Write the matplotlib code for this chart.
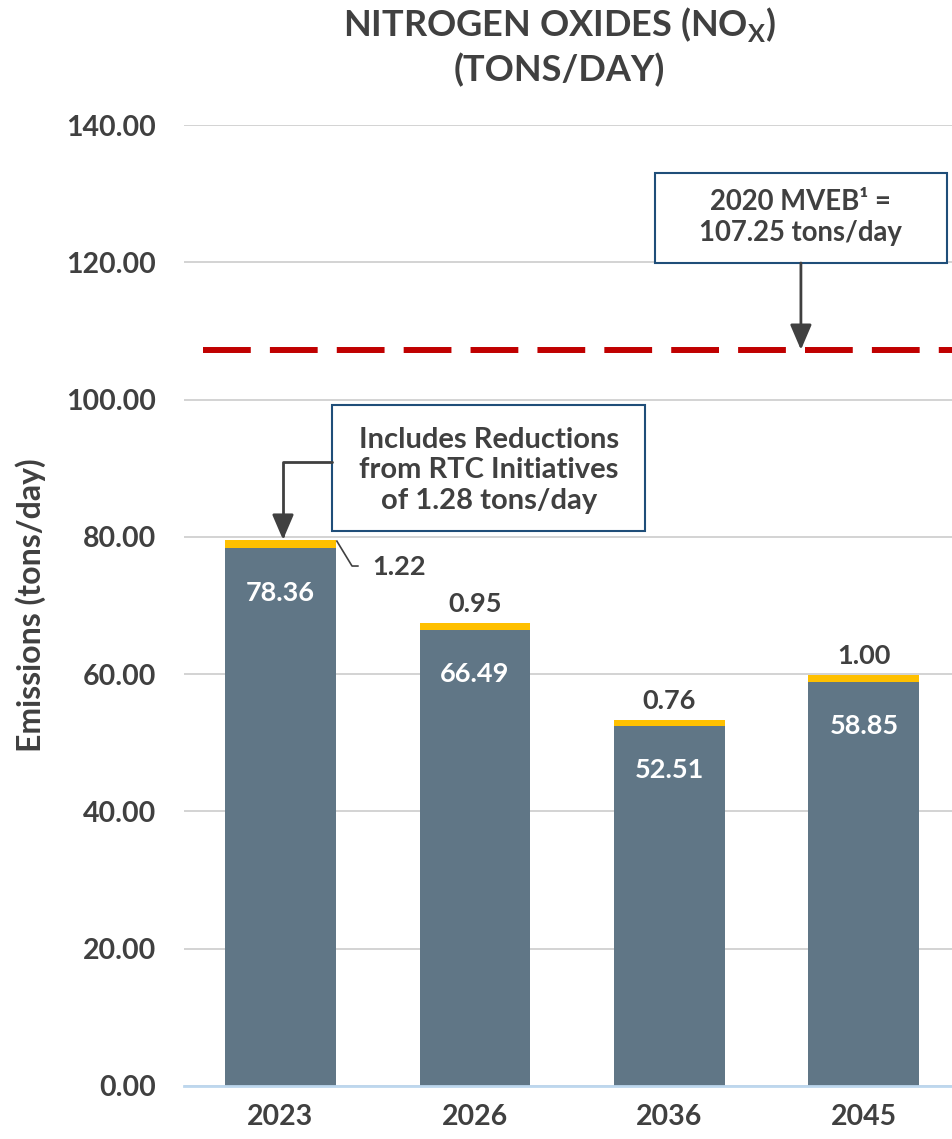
import matplotlib
matplotlib.use("Agg")
import matplotlib.pyplot as plt
from matplotlib.patches import Rectangle
from matplotlib.ticker import FormatStrFormatter

plt.rcParams['font.family'] = ['Lato', 'DejaVu Sans']
plt.rcParams['font.weight'] = 'bold'

# Data
years = ["2023", "2026", "2036", "2045"]
base_emissions = [78.36, 66.49, 52.51, 58.85]
rtc_reductions = [1.22, 0.95, 0.76, 1.00]
mveb_budget = 107.25
y_ticks = [0, 20, 40, 60, 80, 100, 120, 140]

TEXT = "#404040"
BAR_GRAY = "#607686"
BAR_YELLOW = "#FFC000"
RED = "#C00000"
BOX_EDGE = "#1F4E79"

fig = plt.figure(figsize=(9.53, 11.39), dpi=100)
ax = fig.add_axes([184 / 953, 1 - 1086 / 1139, 1 - 184 / 953, (1086 - 125) / 1139])

x = list(range(len(years)))
width = 0.57
ax.bar(x, base_emissions, width, color=BAR_GRAY, zorder=3)
ax.bar(x, rtc_reductions, width, bottom=base_emissions, color=BAR_YELLOW, zorder=3)

ax.set_xlim(-0.496, 3.458)
ax.set_ylim(0, 140)
ax.set_yticks(y_ticks)
ax.yaxis.set_major_formatter(FormatStrFormatter('%.2f'))
ax.set_xticks(x)
ax.set_xticklabels(years)
ax.tick_params(axis='y', length=0, pad=20, labelsize=20.5, labelcolor=TEXT)
ax.tick_params(axis='x', length=0, pad=13, labelsize=20.5, labelcolor=TEXT)
for lbl in ax.get_xticklabels() + ax.get_yticklabels():
    lbl.set_fontweight('bold')

ax.grid(axis='y', color='#D0D0D0', lw=1.3, zorder=0)
for side in ['top', 'right', 'left']:
    ax.spines[side].set_visible(False)
ax.spines['bottom'].set_color('#BDD7EE')
ax.spines['bottom'].set_linewidth(2)
ax.spines['bottom'].set_zorder(4)

# Motor vehicle emissions budget line
ax.axhline(mveb_budget, xmin=0.025, xmax=1.0, color=RED, lw=4.3,
           dashes=(8, 3.2), zorder=4, clip_on=False)

# Value labels
for xi, b, r in zip(x, base_emissions, rtc_reductions):
    ax.annotate(f"{b:.2f}", xy=(xi, b), xytext=(0, -32), textcoords='offset points',
                ha='center', va='center', color='white', fontsize=19.5, fontweight='bold',
                zorder=5)
    if xi > 0:
        ax.annotate(f"{r:.2f}", xy=(xi, b + r), xytext=(0, 14), textcoords='offset points',
                    ha='center', va='center', color=TEXT, fontsize=19.5, fontweight='bold',
                    zorder=5)

# Leader-line label for the first bar's reduction
top0 = base_emissions[0] + rtc_reductions[0]
ax.plot([0.29, 0.368, 0.398], [top0 - 0.2, 75.75, 75.75], color=TEXT, lw=1.2,
        zorder=5, clip_on=False)
ax.text(0.47, 75.6, f"{rtc_reductions[0]:.2f}", ha='left', va='center', color=TEXT,
        fontsize=19.5, fontweight='bold')

# MVEB callout box
ax.add_patch(Rectangle((1.925, 119.9), 3.427 - 1.925, 133.0 - 119.9, facecolor='white',
                       edgecolor=BOX_EDGE, lw=1.5, zorder=6, clip_on=False))
ax.text(2.676, 126.5, "2020 MVEB\u00b9 =\n107.25 tons/day", ha='center', va='center',
        color=TEXT, fontsize=19.8, fontweight='bold', linespacing=1.25, zorder=7)
ax.annotate("", xy=(2.676, mveb_budget), xytext=(2.676, 119.9),
            arrowprops=dict(arrowstyle='-|>,head_width=0.3,head_length=0.7', color=TEXT,
                            lw=2, shrinkA=0, shrinkB=0, mutation_scale=22), zorder=6)

# RTC callout box
ax.add_patch(Rectangle((0.265, 80.85), 1.874 - 0.265, 99.2 - 80.85, facecolor='white',
                       edgecolor=BOX_EDGE, lw=1.5, zorder=6, clip_on=False))
ax.text(1.072, 89.7, "Includes Reductions\nfrom RTC Initiatives\nof 1.28 tons/day",
        ha='center', va='center', color=TEXT, fontsize=21, fontweight='bold',
        linespacing=1.22, zorder=7)
ax.annotate("", xy=(0.013, top0), xytext=(0.265, 90.9),
            arrowprops=dict(arrowstyle='-|>,head_width=0.3,head_length=0.7', color=TEXT,
                            lw=2, shrinkA=0, shrinkB=0, mutation_scale=22,
                            connectionstyle='angle,angleA=0,angleB=90,rad=0'), zorder=6)

# Titles
fig.text(0.587, 1 - 25 / 1139, r"NITROGEN OXIDES (NO$_\mathregular{X}$)", ha='center',
         va='center', fontsize=26, fontweight='bold', color=TEXT)
fig.text(0.587, 1 - 70 / 1139, "(TONS/DAY)", ha='center', va='center', fontsize=26,
         fontweight='bold', color=TEXT)
fig.text(31 / 953, 1 - 605 / 1139, "Emissions (tons/day)", rotation=90, ha='center',
         va='center', fontsize=23, fontweight='bold', color=TEXT)

fig.savefig("out.png", dpi=100, facecolor='white')
